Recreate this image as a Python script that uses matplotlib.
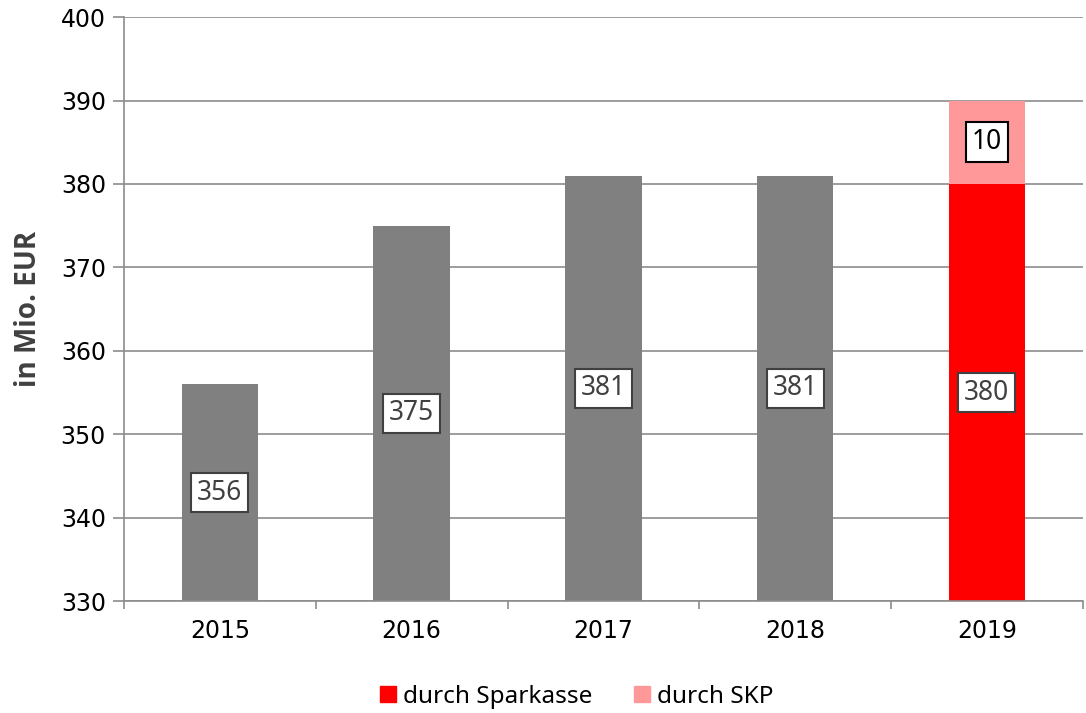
import numpy as np
import matplotlib.pyplot as plt
from matplotlib.patches import Patch

years = ["2015", "2016", "2017", "2018", "2019"]
sparkasse = [356, 375, 381, 381, 380]
skp = [0, 0, 0, 0, 10]
bar_colors = ["#808080", "#808080", "#808080", "#808080", "#ff0000"]
ymin = 330

fig = plt.figure(figsize=(10.86, 7.13), dpi=100)
ax = fig.add_axes([0.1142, 0.157, 0.8828, 0.819])

x = np.arange(len(years))
base = [s - ymin for s in sparkasse]
ax.bar(x, base, bottom=ymin, width=0.4, color=bar_colors, zorder=2)
ax.bar(x, skp, bottom=sparkasse, width=0.4, color="#ff9999", zorder=2)

for i, v in enumerate(sparkasse):
    ax.text(x[i], (ymin + v) / 2, str(v), ha="center", va="center", fontsize=19,
            family="Noto Sans", color="#404040", zorder=3,
            bbox=dict(boxstyle="square,pad=0.22", fc="white", ec="#404040", lw=1.5))
    if skp[i] > 0:
        ax.text(x[i], v + skp[i] / 2, str(skp[i]), ha="center", va="center", fontsize=19,
                family="Noto Sans", color="black", zorder=3,
                bbox=dict(boxstyle="square,pad=0.22", fc="white", ec="black", lw=1.5))

ax.set_xlim(-0.5, 4.5)
ax.set_ylim(330, 400)
ax.set_yticks(range(330, 401, 10))
ax.set_xticks(x)
ax.set_xticklabels(years)
ax.set_xticks(np.arange(-0.5, 4.6, 1), minor=True)
ax.tick_params(axis="x", which="major", length=0, labelsize=17, pad=13)
ax.tick_params(axis="x", which="minor", length=6, color="#8c8c8c", width=1.2)
ax.tick_params(axis="y", length=8, color="#8c8c8c", width=1.2, labelsize=17, pad=5)

ax.grid(axis="y", color="#8c8c8c", lw=1.2, zorder=0)
ax.set_axisbelow(True)
for s in ["top", "right"]:
    ax.spines[s].set_visible(False)
for s in ["left", "bottom"]:
    ax.spines[s].set_color("#8c8c8c")
    ax.spines[s].set_linewidth(1.2)

ax.set_ylabel("in Mio. EUR", fontsize=20, fontweight="bold", family="Open Sans",
              color="#404040")
ax.yaxis.set_label_coords(-0.085, 0.5)

handles = [Patch(color="#ff0000"), Patch(color="#ff9999")]
fig.legend(handles, ["durch Sparkasse", "durch SKP"], loc="center", bbox_to_anchor=(0.531, 0.023),
           ncol=2, frameon=False, prop={"family": "Noto Sans", "size": 17.5},
           handlelength=0.65, handleheight=0.65, handletextpad=0.3, columnspacing=1.7)

fig.savefig("out.png", dpi=100)
